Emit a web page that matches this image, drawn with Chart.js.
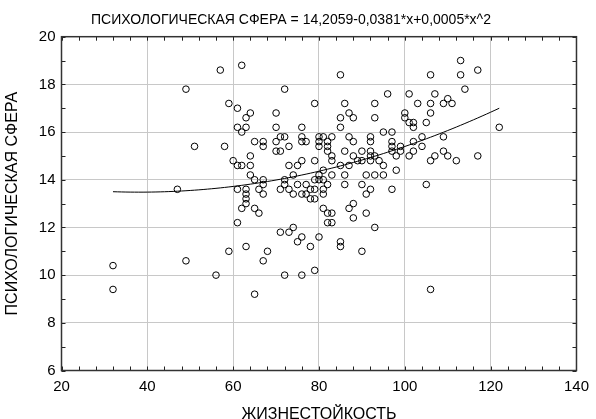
<!DOCTYPE html>
<html>
<head>
<meta charset="utf-8">
<script src="https://cdn.jsdelivr.net/npm/chart.js@4"></script>
<style>
  html, body { margin: 0; padding: 0; background: #fff; }
  canvas { display: block; }
</style>
</head>
<body>
<canvas id="chart" width="596" height="419"></canvas>
<script>
// Жизнестойкость (x) и психологическая сфера (y) по каждому респонденту
const hardiness = [
  32, 32,
  47,
  49, 49,
  51,
  56,
  57,
  58,
  59, 59,
  60,
  61, 61, 61, 61, 61,
  62, 62, 62, 62,
  63, 63, 63, 63, 63, 63, 63,
  64, 64, 64, 64,
  65, 65, 65, 65,
  66, 66,
  67, 67, 67, 67, 67, 67,
  68,
  70, 70, 70, 70,
  71, 71, 71, 71,
  72, 72, 72, 72, 72,
  73, 73, 73, 73,
  74, 74, 74,
  75, 75, 75,
  76, 76, 76, 76, 76, 76, 76,
  77, 77, 77,
  78, 78, 78,
  79, 79, 79, 79, 79, 79,
  80, 80, 80, 80, 80, 80,
  81, 81, 81, 81, 81, 81,
  82, 82, 82, 82, 82, 82,
  83, 83, 83, 83, 83, 83,
  85, 85, 85, 85, 85, 85,
  86, 86, 86, 86,
  87, 87, 87, 87,
  88, 88, 88, 88, 88,
  89,
  90, 90, 90, 90,
  91, 91, 91,
  92, 92, 92, 92, 92, 92,
  93, 93, 93, 93, 93,
  94,
  95, 95, 95,
  96,
  97, 97, 97, 97, 97,
  98, 98,
  99, 99,
  100, 100,
  101, 101, 101,
  102, 102, 102, 102,
  103,
  104, 104,
  105, 105,
  106, 106, 106, 106, 106,
  107, 107,
  109, 109, 109,
  110, 110,
  111,
  112,
  113, 113,
  114,
  117, 117,
  122
];

const psychSphere = [
  10.4, 9.4,
  13.6,
  17.8, 10.6,
  15.4,
  10.0,
  18.6,
  15.4,
  17.2, 11.0,
  14.8,
  17.0, 16.2, 14.6, 13.6, 12.2,
  18.8, 16.0, 14.6, 12.8,
  16.6, 16.2, 13.6, 13.4, 13.2, 13.0, 11.2,
  16.8, 15.0, 14.6, 14.2,
  15.6, 14.0, 12.8, 9.2,
  13.6, 12.6,
  15.6, 15.4, 14.0, 13.8, 13.4, 10.6,
  11.0,
  16.8, 16.2, 15.6, 15.2,
  15.8, 15.2, 13.6, 11.8,
  17.8, 15.8, 14.0, 13.8, 10.0,
  15.4, 14.6, 13.6, 11.8,
  14.2, 13.4, 12.0,
  14.6, 13.8, 11.4,
  16.2, 15.8, 15.6, 14.8, 13.4, 11.6, 10.0,
  15.6, 13.8, 13.4,
  13.6, 13.2, 11.2,
  17.2, 14.8, 14.0, 13.6, 13.2, 10.2,
  15.8, 15.6, 15.4, 14.2, 14.0, 11.6,
  15.8, 14.4, 14.0, 13.6, 13.4, 12.8,
  15.6, 15.4, 15.2, 13.8, 12.6, 12.2,
  15.8, 15.0, 14.8, 14.2, 12.6, 12.2,
  18.4, 16.6, 16.2, 14.6, 11.4, 11.2,
  17.2, 15.2, 14.2, 13.8,
  16.8, 15.8, 14.6, 12.8,
  16.6, 15.6, 15.0, 13.0, 12.4,
  14.8,
  15.2, 14.8, 13.8, 11.0,
  14.2, 13.4, 12.6,
  15.8, 15.6, 15.2, 15.0, 14.8, 13.6,
  17.2, 16.6, 15.0, 14.2, 12.0,
  14.8,
  16.0, 14.6, 14.2,
  17.6,
  16.0, 15.6, 15.4, 15.2, 13.6,
  15.0, 14.4,
  15.4, 15.2,
  16.8, 16.6,
  17.6, 16.4, 15.0,
  16.4, 16.2, 15.6, 15.2,
  17.2,
  15.8, 15.4,
  16.4, 13.8,
  18.4, 17.2, 16.8, 14.8, 9.4,
  17.6, 15.0,
  17.2, 15.8, 15.2,
  17.4, 15.0,
  17.2,
  14.8,
  19.0, 18.4,
  17.8,
  18.6, 15.0,
  16.2
];

// Коэффициенты квадратичной регрессии из заголовка: a + b*x + c*x^2
const fitCoefficients = [14.2059, -0.0381, 0.0005];
const fitRange = [32, 122];

const xTicks = [20, 40, 60, 80, 100, 120, 140];
const yTicks = [6, 8, 10, 12, 14, 16, 18, 20];
const xMinorStep = 4;
const yMinorStep = 1;

const chartTitle = 'ПСИХОЛОГИЧЕСКАЯ СФЕРА = 14,2059-0,0381*x+0,0005*x^2';
const xTitle = 'ЖИЗНЕСТОЙКОСТЬ';
const yTitle = 'ПСИХОЛОГИЧЕСКАЯ СФЕРА';

const FONT = 'Liberation Sans, Arial, sans-serif';

const points = hardiness.map((x, i) => ({ x, y: psychSphere[i] }));

const fitLine = [];
for (let x = fitRange[0]; x <= fitRange[1]; x++) {
  const [a, b, c] = fitCoefficients;
  fitLine.push({ x, y: a + b * x + c * x * x });
}

// Рамка графика с внутренними делениями на всех четырёх сторонах
const framePlugin = {
  id: 'frame',
  afterDraw(chart) {
    const { ctx, chartArea: a, scales: { x, y } } = chart;
    ctx.save();
    ctx.strokeStyle = '#222';
    ctx.lineWidth = 1;
    ctx.beginPath();
    for (let v = x.min; v <= x.max + 1e-9; v += xMinorStep) {
      const px = Math.round(x.getPixelForValue(v)) + 0.5;
      ctx.moveTo(px, a.bottom); ctx.lineTo(px, a.bottom - 4);
      ctx.moveTo(px, a.top); ctx.lineTo(px, a.top + 4);
    }
    for (let v = y.min; v <= y.max + 1e-9; v += yMinorStep) {
      const py = Math.round(y.getPixelForValue(v)) + 0.5;
      ctx.moveTo(a.left, py); ctx.lineTo(a.left + 4, py);
      ctx.moveTo(a.right, py); ctx.lineTo(a.right - 4, py);
    }
    ctx.stroke();
    ctx.lineWidth = 1.5;
    ctx.strokeStyle = '#333';
    ctx.strokeRect(a.left, a.top, a.right - a.left, a.bottom - a.top);
    ctx.restore();
  }
};

new Chart(document.getElementById('chart'), {
  type: 'scatter',
  data: {
    datasets: [
      {
        type: 'line',
        data: fitLine,
        borderColor: '#000',
        borderWidth: 1,
        pointRadius: 0,
        fill: false,
        tension: 0,
        order: 0
      },
      {
        data: points,
        pointRadius: 3.3,
        pointHoverRadius: 3.3,
        borderColor: '#000',
        backgroundColor: 'rgba(255,255,255,0)',
        borderWidth: 1,
        order: 1
      }
    ]
  },
  options: {
    responsive: false,
    animation: false,
    devicePixelRatio: 1,
    layout: { padding: { left: 0, right: 14, top: 0, bottom: 0 } },
    plugins: {
      legend: { display: false },
      tooltip: { enabled: false },
      title: {
        display: true,
        text: chartTitle,
        color: '#000',
        font: { family: FONT, size: 14, weight: 'normal', lineHeight: 1.2 },
        padding: { top: 11.5, bottom: 8.4 }
      }
    },
    scales: {
      x: {
        type: 'linear',
        min: xTicks[0],
        max: xTicks[xTicks.length - 1],
        afterBuildTicks(scale) { scale.ticks = xTicks.map(v => ({ value: v })); },
        afterFit(scale) { scale.height = 48.5; },
        ticks: { color: '#000', font: { family: FONT, size: 15 }, padding: 7, maxRotation: 0 },
        grid: { color: '#c8c8c8', lineWidth: 1, drawTicks: false },
        border: { display: false },
        title: {
          display: true,
          text: xTitle,
          color: '#000',
          font: { family: FONT, size: 16, lineHeight: 0.6 },
          padding: { top: 0, bottom: 0 }
        }
      },
      y: {
        type: 'linear',
        min: yTicks[0],
        max: yTicks[yTicks.length - 1],
        afterBuildTicks(scale) { scale.ticks = yTicks.map(v => ({ value: v })); },
        afterFit(scale) { scale.width = 61.5; },
        ticks: { color: '#000', font: { family: FONT, size: 15 }, padding: 6 },
        grid: { color: '#c8c8c8', lineWidth: 1, drawTicks: false },
        border: { display: false },
        title: {
          display: true,
          text: yTitle,
          color: '#000',
          font: { family: FONT, size: 16, lineHeight: 1.2 },
          padding: { top: 2.5, bottom: 0 }
        }
      }
    }
  },
  plugins: [framePlugin]
});
</script>
</body>
</html>
